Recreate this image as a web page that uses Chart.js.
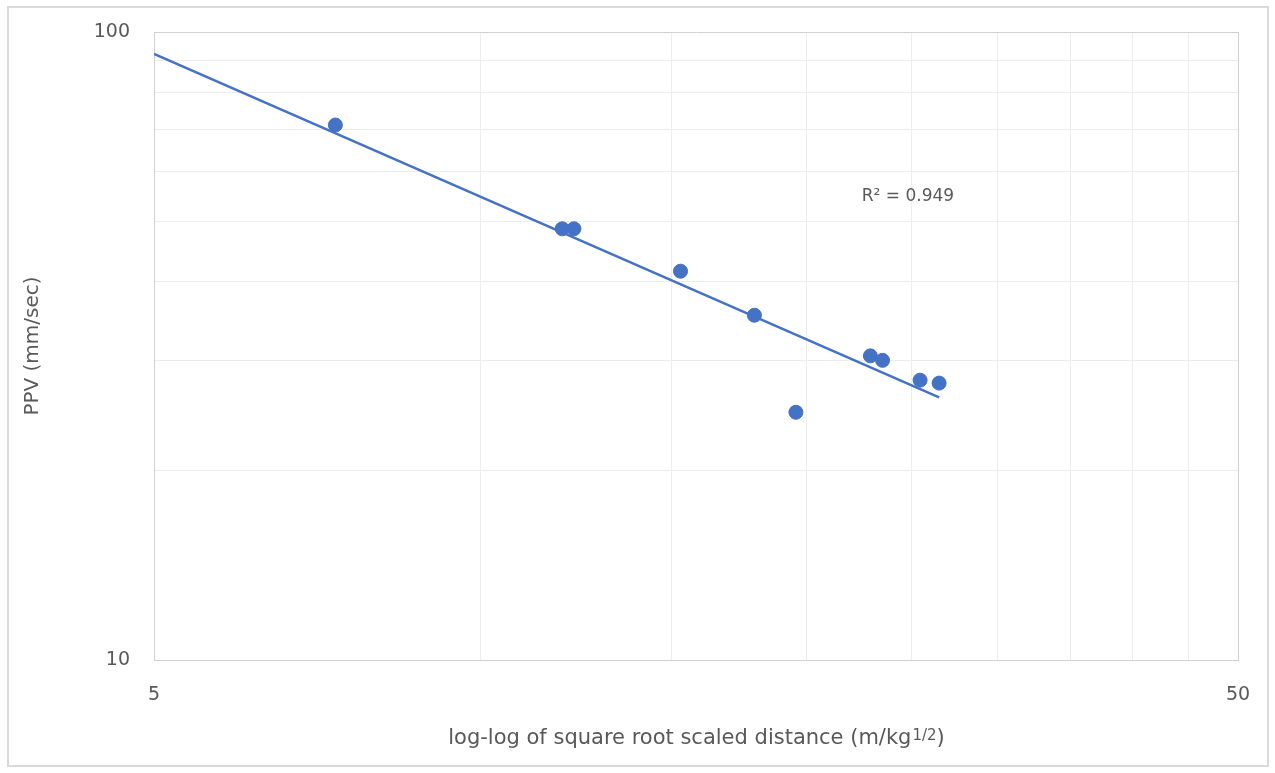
<!DOCTYPE html>
<html>
<head>
<meta charset="utf-8">
<script src="https://cdn.jsdelivr.net/npm/chart.js@4"></script>
<style>
  html, body { margin: 0; padding: 0; background: #fff; }
  #wrap { width: 1275px; height: 773px; }
</style>
</head>
<body>
<div id="wrap"><canvas id="chart" width="1275" height="773"></canvas></div>
<script>
// scaled distance (m/kg^1/2) and PPV (mm/sec)
const distance = [7.35, 11.9, 12.2, 15.3, 17.9, 19.55, 22.9, 23.5, 25.45, 26.5];
const ppv = [71.1, 48.6, 48.6, 41.6, 35.4, 24.8, 30.5, 30.0, 27.9, 27.6];

// power trendline ends
const trendX = [5, 26.5];
const trendY = [92.3, 26.2];

const xTicks = [5, 10, 15, 20, 25, 30, 35, 40, 45, 50];
const yTicks = [10, 20, 30, 40, 50, 60, 70, 80, 90, 100];
const r2Text = 'R² = 0.949';
const r2At = { x: 24.8, y: 54.6 };

const blue = '#4472C4';
const grey = '#595959';
const font = '"DejaVu Sans", sans-serif';

const frame = {
  id: 'frame',
  beforeDraw(c) {
    const ctx = c.ctx;
    ctx.save();
    ctx.fillStyle = '#fff';
    ctx.fillRect(0, 0, c.width, c.height);
    ctx.strokeStyle = '#d9d9d9';
    ctx.lineWidth = 2;
    ctx.strokeRect(8, 7, 1260, 759);
    ctx.restore();
  },
  afterDraw(c) {
    const ctx = c.ctx;
    const xs = c.scales.x, ys = c.scales.y;
    ctx.save();
    ctx.fillStyle = grey;
    ctx.textBaseline = 'middle';
    // R squared label
    ctx.font = '17px ' + font;
    ctx.textAlign = 'center';
    ctx.fillText(r2Text, xs.getPixelForValue(r2At.x), ys.getPixelForValue(r2At.y));
    // x title with superscript
    const main = 'log-log of square root scaled distance (m/kg';
    const sup = '1/2';
    const end = ')';
    ctx.textAlign = 'left';
    ctx.font = '21px ' + font;
    const w1 = ctx.measureText(main).width;
    const w3 = ctx.measureText(end).width;
    ctx.font = '15px ' + font;
    const w2 = ctx.measureText(sup).width;
    const cx = 696;
    let x0 = cx - (w1 + w2 + w3) / 2;
    const y0 = 739;
    ctx.font = '21px ' + font;
    ctx.fillText(main, x0, y0);
    ctx.font = '15px ' + font;
    ctx.fillText(sup, x0 + w1 + 1, y0 - 3);
    ctx.font = '21px ' + font;
    ctx.fillText(end, x0 + w1 + w2 + 1, y0);
    ctx.restore();
  }
};

function gridColor(maxVal) {
  return ctx => (ctx.tick && ctx.tick.value === maxVal) ? '#d0d0d0' : '#ededed';
}

new Chart(document.getElementById('chart'), {
  type: 'scatter',
  data: {
    datasets: [{
      label: 'PPV',
      data: distance.map((d, i) => ({ x: d, y: ppv[i] })),
      backgroundColor: blue,
      borderColor: blue,
      pointRadius: 7,
      pointHoverRadius: 7
    }, {
      type: 'line',
      label: 'Power trend',
      data: trendX.map((d, i) => ({ x: d, y: trendY[i] })),
      borderColor: blue,
      borderWidth: 2.5,
      pointRadius: 0,
      fill: false
    }]
  },
  options: {
    responsive: false,
    animation: false,
    layout: { padding: { left: 0, top: 32, right: 37, bottom: 0 } },
    plugins: { legend: { display: false }, tooltip: { enabled: false } },
    scales: {
      x: {
        type: 'logarithmic',
        min: 5,
        max: 50,
        afterBuildTicks: s => { s.ticks = xTicks.map(v => ({ value: v })); },
        afterFit: s => { s.height = 113; s.paddingLeft = 0; s.paddingRight = 0; },
        grid: { color: gridColor(50), drawTicks: false, lineWidth: 1 },
        border: { color: '#d0d0d0', width: 1 },
        ticks: {
          padding: 24,
          color: grey,
          font: { family: font, size: 19 },
          maxRotation: 0,
          autoSkip: false,
          callback: v => (v === 5 || v === 50) ? String(v) : ''
        }
      },
      y: {
        type: 'logarithmic',
        min: 10,
        max: 100,
        afterBuildTicks: s => { s.ticks = yTicks.map(v => ({ value: v })); },
        afterFit: s => { s.width = 154; s.paddingTop = 0; s.paddingBottom = 0; },
        grid: { color: gridColor(100), drawTicks: false, lineWidth: 1 },
        border: { color: '#d0d0d0', width: 1 },
        ticks: {
          padding: 24,
          color: grey,
          font: { family: font, size: 19 },
          autoSkip: false,
          callback: v => (v === 10 || v === 100) ? String(v) : ''
        },
        title: {
          display: true,
          text: 'PPV (mm/sec)',
          color: grey,
          font: { family: font, size: 20 },
          padding: { top: 21 }
        }
      }
    }
  },
  plugins: [frame]
});
</script>
</body>
</html>
